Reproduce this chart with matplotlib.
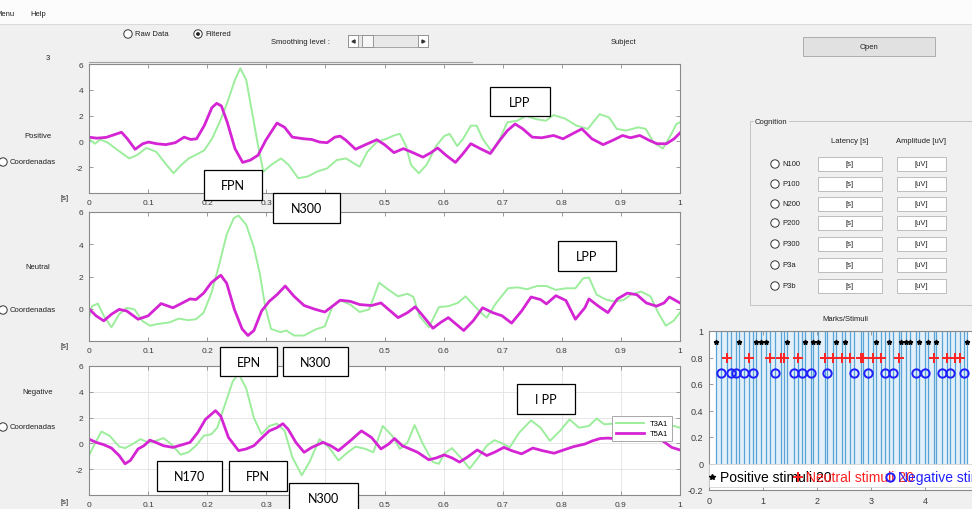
import numpy as np
import matplotlib.pyplot as plt
from matplotlib.patches import Rectangle, Circle

W, H = 972, 510
plt.rcParams['font.family'] = ['Liberation Sans', 'DejaVu Sans']

GREEN = '#9cee9c'
MAGENTA = '#d424d4'
BG = '#f0f0f0'

# ERP averages, (time [s], amplitude [uV]) per channel
pos_t3 = [(0, 0.20), (0.010, -0.18), (0.019, 0.15), (0.032, -0.10), (0.049, -0.69), (0.068, -1.32),
          (0.081, -1.07), (0.097, -0.51), (0.114, -0.81), (0.127, -1.58), (0.143, -2.47), (0.156, -1.83),
          (0.169, -1.32), (0.185, -0.94), (0.195, -0.69), (0.208, 0.20), (0.221, 1.48), (0.234, 3.00),
          (0.247, 4.78), (0.256, 5.67), (0.266, 4.78), (0.276, 2.24), (0.286, -0.31), (0.295, -2.34),
          (0.308, -1.83), (0.325, -1.32), (0.338, -1.83), (0.354, -2.85), (0.370, -2.72), (0.386, -2.34),
          (0.403, -2.09), (0.419, -1.45), (0.435, -1.32), (0.448, -1.70), (0.458, -1.96), (0.471, -0.81),
          (0.487, -0.05), (0.503, 0.20), (0.516, 0.46), (0.526, 0.59), (0.536, -0.31), (0.545, -1.83),
          (0.558, -2.47), (0.571, -1.83), (0.588, -0.31), (0.601, 0.41), (0.610, 0.59), (0.623, -0.36),
          (0.633, 0.20), (0.646, 1.22), (0.656, 1.22), (0.666, 0.20), (0.682, -0.81), (0.695, 0.20),
          (0.708, 1.48), (0.724, 1.60), (0.740, 1.98), (0.756, 1.73), (0.773, 1.60), (0.786, 2.04),
          (0.805, 1.78), (0.825, 1.22), (0.844, 0.97), (0.864, 2.11), (0.880, 1.86), (0.893, 0.97),
          (0.909, 0.84), (0.929, 1.09), (0.942, 0.97), (0.955, -0.05), (0.971, -0.56), (0.984, 0.46),
          (0.994, 1.35), (1.0, 1.48)]
pos_t5 = [(0, 0.33), (0.013, 0.25), (0.029, 0.31), (0.042, 0.51), (0.055, 0.71), (0.065, 0.20),
          (0.078, -0.61), (0.091, -0.18), (0.101, -0.05), (0.114, -0.18), (0.130, -0.25), (0.146, -0.10),
          (0.161, 0.33), (0.172, 0.15), (0.182, 0.20), (0.195, 1.22), (0.208, 2.62), (0.216, 2.95),
          (0.224, 2.75), (0.234, 1.48), (0.247, -0.56), (0.260, -1.63), (0.273, -1.45), (0.286, -1.07),
          (0.299, 0.08), (0.318, 1.42), (0.331, 1.09), (0.344, 0.33), (0.364, 0.20), (0.377, 0.15),
          (0.390, -0.05), (0.403, -0.10), (0.416, 0.33), (0.425, 0.41), (0.435, 0.08), (0.451, -0.61),
          (0.468, -0.25), (0.487, 0.13), (0.500, -0.25), (0.516, -0.87), (0.532, -0.56), (0.549, -0.89),
          (0.565, -1.22), (0.578, -0.89), (0.590, -0.51), (0.604, -1.07), (0.620, -1.63), (0.633, -0.94),
          (0.646, -0.18), (0.662, -0.56), (0.679, -0.94), (0.695, 0.08), (0.708, 0.84), (0.721, 1.35),
          (0.734, 0.97), (0.750, 0.33), (0.766, 0.28), (0.786, 0.46), (0.802, 0.20), (0.818, 0.59),
          (0.834, 0.97), (0.851, 0.20), (0.870, -0.25), (0.886, 0.08), (0.903, 0.46), (0.916, 0.28),
          (0.932, 0.46), (0.948, 0.08), (0.961, -0.18), (0.977, -0.18), (0.990, 0.20), (1.0, 0.66)]
neu_t3 = [(0, -0.55), (0.005, 0.16), (0.015, 0.32), (0.025, -0.44), (0.038, -1.15), (0.051, -0.34),
          (0.064, 0.06), (0.077, -0.04), (0.090, -0.75), (0.103, -1.05), (0.116, -0.95), (0.136, -0.85),
          (0.152, -0.61), (0.168, -0.71), (0.181, -0.65), (0.194, -0.24), (0.207, 0.97), (0.220, 2.69),
          (0.233, 4.61), (0.245, 5.62), (0.253, 5.78), (0.266, 5.21), (0.279, 3.80), (0.289, 2.18),
          (0.298, 0.16), (0.308, -1.25), (0.324, -1.45), (0.334, -1.35), (0.347, -1.66), (0.364, -1.66),
          (0.383, -1.29), (0.399, -1.09), (0.412, 0.16), (0.425, 0.53), (0.442, 0.26), (0.458, -0.20),
          (0.474, -0.04), (0.491, 1.62), (0.507, 1.17), (0.523, 0.77), (0.539, 0.93), (0.549, 0.73),
          (0.559, -0.44), (0.575, -1.15), (0.592, 0.10), (0.608, 0.16), (0.624, 0.36), (0.637, 0.77),
          (0.650, 0.26), (0.663, -0.24), (0.673, -0.55), (0.689, 0.36), (0.709, 1.27), (0.725, 1.33),
          (0.741, 1.21), (0.758, 1.41), (0.774, 1.41), (0.790, 1.17), (0.807, 1.27), (0.823, 1.27),
          (0.836, 1.88), (0.846, 1.94), (0.859, 0.87), (0.875, 0.57), (0.888, 0.46), (0.904, 0.53),
          (0.917, 0.87), (0.934, 1.07), (0.950, 0.77), (0.963, -0.24), (0.976, -1.05), (0.989, -0.75),
          (1.0, -0.24)]
neu_t5 = [(0, 0.0), (0.012, -0.44), (0.025, -0.75), (0.038, -0.34), (0.051, -0.04), (0.064, -0.14),
          (0.083, -0.65), (0.100, -0.44), (0.122, 0.32), (0.142, 0.06), (0.158, 0.36), (0.171, 0.61),
          (0.181, 0.57), (0.194, 0.97), (0.207, 1.62), (0.223, 2.08), (0.233, 1.58), (0.246, -0.04),
          (0.259, -1.25), (0.269, -1.66), (0.279, -1.35), (0.292, -0.14), (0.305, 0.46), (0.318, 0.87),
          (0.332, 1.41), (0.347, 0.77), (0.364, 0.20), (0.383, -0.04), (0.399, -0.20), (0.412, 0.16),
          (0.425, 0.53), (0.442, 0.46), (0.458, 0.26), (0.478, 0.20), (0.494, 0.36), (0.510, -0.14),
          (0.523, -0.55), (0.539, -0.24), (0.552, 0.12), (0.565, -0.44), (0.582, -1.21), (0.595, -0.85),
          (0.608, -0.55), (0.621, -0.95), (0.634, -1.35), (0.650, -0.75), (0.666, 0.06), (0.683, -0.24),
          (0.699, -0.44), (0.715, -0.89), (0.732, -0.14), (0.748, 0.73), (0.764, 0.57), (0.774, 0.30),
          (0.790, 0.81), (0.807, 0.51), (0.823, -0.65), (0.839, 0.06), (0.846, 0.61), (0.862, 0.16),
          (0.878, -0.24), (0.894, 0.61), (0.911, 0.97), (0.927, 0.87), (0.943, 0.36), (0.960, 0.16),
          (0.973, 0.36), (0.982, 0.73), (1.0, 0.36)]
neg_t3 = [(0, -0.94), (0.008, -0.18), (0.021, 0.92), (0.035, 0.59), (0.051, -0.25), (0.061, -0.36),
          (0.074, -0.05), (0.087, 0.33), (0.100, 0.08), (0.113, 0.20), (0.126, 0.41), (0.139, -0.05),
          (0.155, -0.87), (0.168, -0.69), (0.181, -0.18), (0.194, 0.59), (0.207, 0.71), (0.217, 1.22),
          (0.230, 3.00), (0.243, 4.78), (0.253, 5.42), (0.266, 4.27), (0.279, 1.98), (0.292, 0.71),
          (0.305, 1.35), (0.318, 1.53), (0.331, 0.97), (0.344, -1.07), (0.360, -2.47), (0.373, -1.45),
          (0.390, 0.33), (0.406, -0.31), (0.422, -1.32), (0.438, -0.69), (0.451, -0.25), (0.468, -0.43),
          (0.481, -0.69), (0.497, 1.35), (0.513, 0.59), (0.526, -0.43), (0.539, 0.08), (0.551, 1.42),
          (0.565, -0.05), (0.582, -1.45), (0.592, -1.58), (0.601, -0.81), (0.614, -0.36), (0.631, -1.20),
          (0.644, -1.96), (0.657, -1.20), (0.673, -0.18), (0.686, 0.25), (0.699, 0.00), (0.712, -0.31),
          (0.728, 0.84), (0.748, 1.78), (0.764, 1.22), (0.780, 0.20), (0.797, 0.97), (0.813, 1.86),
          (0.829, 1.22), (0.846, 1.35), (0.859, 1.93), (0.872, 1.48), (0.904, 1.60), (0.937, 1.73),
          (0.969, 1.60), (1.0, 1.22)]
neg_t5 = [(0, 0.33), (0.012, 0.08), (0.025, -0.10), (0.038, -0.36), (0.051, -0.94), (0.061, -1.58),
          (0.070, -1.32), (0.083, -0.43), (0.093, -0.18), (0.103, 0.25), (0.113, 0.08), (0.126, -0.18),
          (0.142, -0.31), (0.158, -0.10), (0.171, 0.08), (0.184, 0.84), (0.197, 1.86), (0.214, 2.54),
          (0.223, 2.11), (0.236, 0.46), (0.253, -0.56), (0.266, -0.43), (0.279, -0.18), (0.292, 0.41),
          (0.305, 0.97), (0.318, 1.22), (0.328, 1.53), (0.337, 1.09), (0.350, 0.08), (0.364, -0.69),
          (0.377, -0.31), (0.396, 0.08), (0.409, -0.18), (0.422, -0.56), (0.442, 0.20), (0.461, 0.97),
          (0.478, 0.46), (0.494, -0.43), (0.507, -0.05), (0.517, 0.38), (0.530, -0.18), (0.543, -0.43),
          (0.556, -0.69), (0.575, -1.27), (0.588, -1.12), (0.601, -0.89), (0.614, -1.12), (0.627, -1.45),
          (0.640, -1.07), (0.657, -0.51), (0.673, -0.94), (0.686, -0.69), (0.702, -0.31), (0.715, -0.56),
          (0.732, -0.81), (0.751, -0.36), (0.767, -0.56), (0.787, -0.76), (0.803, -0.51), (0.820, -0.25),
          (0.839, -0.05), (0.852, 0.20), (0.865, 0.38), (0.878, 0.41), (0.904, 0.33), (0.937, 0.41),
          (0.969, 0.25), (0.986, -0.31), (1.0, -0.51)]

# stimulus onsets [s] and marker levels
stim_pos = [0.13, 0.56, 0.87, 0.96, 1.06, 1.44, 1.78, 1.93, 2.01, 2.35, 2.51, 3.09, 3.33, 3.56,
            3.65, 3.73, 3.88, 4.05, 4.21, 4.77]
stim_neu = [0.34, 0.74, 1.13, 1.33, 1.39, 1.65, 2.14, 2.30, 2.46, 2.62, 2.81, 2.86, 3.03, 3.19,
            3.52, 4.16, 4.40, 4.56, 4.64]
stim_neg = [0.23, 0.40, 0.50, 0.65, 0.82, 1.23, 1.57, 1.73, 1.89, 2.19, 2.69, 2.94, 3.26, 3.41,
            3.83, 4.00, 4.31, 4.46, 4.72]
level_pos, level_neu, level_neg = 0.92, 0.80, 0.68

xticks = [0, 0.1, 0.2, 0.3, 0.4, 0.5, 0.6, 0.7, 0.8, 0.9, 1]
xticklabels = ['0', '0.1', '0.2', '0.3', '0.4', '0.5', '0.6', '0.7', '0.8', '0.9', '1']
components = ['N100', 'P100', 'N200', 'P200', 'P300', 'P3a', 'P3b']
comp_rows = [165, 185, 205, 224, 245, 266, 287]


def px_axes(fig, l, t, r, b, **kw):
    return fig.add_axes([l / W, 1 - b / H, (r - l) / W, (b - t) / H], **kw)


def style(ax, ylim, yticks, ylabels):
    ax.set_xlim(0, 1)
    ax.set_ylim(*ylim)
    ax.set_xticks(xticks)
    ax.set_xticklabels(xticklabels)
    ax.set_yticks(yticks)
    ax.set_yticklabels(ylabels)
    ax.tick_params(direction='in', length=3, width=0.6, color='#8a8a8a', labelcolor='#3c3c3c',
                   labelsize=6, top=True, right=True, pad=4)
    for s in ax.spines.values():
        s.set_color('#8a8a8a')
        s.set_linewidth(0.8)


fig = plt.figure(figsize=(9.72, 5.10), dpi=100, facecolor=BG)

ax1 = px_axes(fig, 89, 65, 680, 194)
ax2 = px_axes(fig, 89, 213, 680, 342)
ax3 = px_axes(fig, 89, 367, 680, 496)

style(ax1, (-4, 6), [-4, -2, 0, 2, 4, 6], ['', '-2', '0', '2', '4', '6'])
style(ax2, (-2, 6), [-2, 0, 2, 4, 6], ['', '0', '2', '4', '6'])
style(ax3, (-4, 6), [-4, -2, 0, 2, 4, 6], ['', '-2', '0', '2', '4', '6'])
ax3.grid(True, color='#e2e2e2', lw=0.6)

for ax, t3, t5 in [(ax1, pos_t3, pos_t5), (ax2, neu_t3, neu_t5), (ax3, neg_t3, neg_t5)]:
    a = np.array(t3)
    b = np.array(t5)
    ax.plot(a[:, 0], a[:, 1], color=GREEN, lw=1.4, label='T3A1')
    ax.plot(b[:, 0], b[:, 1], color=MAGENTA, lw=2.0, label='T5A1')

leg = ax3.legend(loc='upper right', bbox_to_anchor=(0.986, 0.61), fontsize=5.5, handlelength=3.6,
                 fancybox=False, edgecolor='#9a9a9a', framealpha=1, borderaxespad=0, borderpad=0.5,
                 labelspacing=0.35, handletextpad=0.8)
leg.get_frame().set_linewidth(0.6)

# Marks/Stimuli panel
mk = px_axes(fig, 709, 332, 979, 491)
mk.set_xlim(0, 5)
mk.set_ylim(-0.2, 1)
mk.set_xticks([0, 1, 2, 3, 4])
mk.set_yticks([-0.2, 0, 0.2, 0.4, 0.6, 0.8, 1])
mk.set_yticklabels(['-0.2', '0', '0.2', '0.4', '0.6', '0.8', '1'])
mk.tick_params(direction='in', length=3, width=0.6, color='#8a8a8a', labelcolor='#3c3c3c',
               labelsize=6.5, top=True, right=True, pad=4)
for s in mk.spines.values():
    s.set_color('#8a8a8a')
    s.set_linewidth(0.8)
onsets = sorted(stim_pos + stim_neu + stim_neg)
mk.fill_between([onsets[0], onsets[-1]], 0, 1, color='#e3f0f9', lw=0)
mk.vlines(onsets, 0, 1, color='#5aa3d6', lw=0.9)
mk.plot(stim_pos, [level_pos] * len(stim_pos), '*', color='black', ms=3.5, ls='none')
mk.plot(stim_neu, [level_neu] * len(stim_neu), '+', color='#ff2222', ms=7, mew=1.4, ls='none')
mk.plot(stim_neg, [level_neg] * len(stim_neg), 'o', mfc='none', mec='#1f1fff', ms=6, mew=1.4, ls='none')
mk.add_patch(Rectangle((0, -0.175), 5, 0.172, fc='white', ec='#cccccc', lw=0.5, zorder=4))
mk.plot([0.05], [-0.1], '*', color='black', ms=4, zorder=5, clip_on=False)
mk.text(0.2, -0.1, 'Positive stimuli 20', color='black', fontsize=10, va='center', zorder=5)
mk.plot([1.65], [-0.1], '+', color='#ff2222', ms=7, mew=1.4, zorder=6)
mk.text(1.8, -0.1, 'Neutral stimuli 20', color='#ff2222', fontsize=10, va='center', zorder=6)
mk.plot([3.35], [-0.1], 'o', mfc='none', mec='#1f1fff', ms=6, mew=1.4, zorder=7)
mk.text(3.5, -0.1, 'Negative stimuli 20', color='#1f1fff', fontsize=10, va='center', zorder=7)

# window widgets drawn in pixel coordinates
ov = fig.add_axes([0, 0, 1, 1], zorder=10)
ov.set_xlim(0, W)
ov.set_ylim(H, 0)
ov.axis('off')
ov.patch.set_alpha(0)

GUI = dict(fontsize=5.5, color='#202020', va='center')


def radio(x, y, selected=False):
    ov.add_patch(Circle((x, y), 4.2, fc='white', ec='#333333', lw=0.7))
    if selected:
        ov.add_patch(Circle((x, y), 1.9, fc='#222222', ec='none'))


def note(l, t, r, b, s):
    ov.add_patch(Rectangle((l, t), r - l, b - t, fc='white', ec='black', lw=0.9))
    ov.text((l + r) / 2, (t + b) / 2 + 0.5, s, ha='center', va='center', fontsize=9,
            family=['Lato', 'DejaVu Sans'], color='black')


ov.add_patch(Rectangle((0, 0), W, 25, fc='#fcfcfc', ec='none'))
ov.plot([0, W], [25, 25], color='#dadada', lw=0.8)
ov.text(-5, 15, 'Menu', **GUI)
ov.text(30, 15, 'Help', **GUI)

radio(128, 35)
ov.text(135, 35, 'Raw Data', **GUI)
radio(198, 35, selected=True)
ov.text(205, 35, 'Filtered', **GUI)
ov.text(271, 42, 'Smoothing level :', **GUI)
ov.add_patch(Rectangle((348, 36), 80, 12, fc='#e8e8e8', ec='#9a9a9a', lw=0.6))
ov.add_patch(Rectangle((348, 36), 10, 12, fc='white', ec='#8a8a8a', lw=0.6))
ov.add_patch(Rectangle((418, 36), 10, 12, fc='white', ec='#8a8a8a', lw=0.6))
ov.add_patch(Rectangle((362, 36), 11, 12, fc='#f7f7f7', ec='#8a8a8a', lw=0.6))
ov.plot([353], [42], marker='<', ms=2.2, color='#333333')
ov.plot([423], [42], marker='>', ms=2.2, color='#333333')
ov.text(611, 42, 'Subject', **GUI)
ov.plot([89, 472], [63, 63], color='#a0a0a0', lw=0.8)

ov.text(48, 58, '3', ha='center', **GUI)
for y_lab, y_rad, y_s, name in [(137, 163, 199, 'Positive'), (268, 311, 347, 'Neutral'),
                               (393, 428, 503, 'Negative')]:
    ov.text(38, y_lab, name, ha='center', **GUI)
    radio(3, y_rad)
    ov.text(10, y_rad, 'Coordenadas', **GUI)
    ov.text(65, y_s, '[s]', ha='center', **GUI)

# component labels on the traces
note(490, 88, 550, 117, 'LPP')
note(204, 171, 262, 201, 'FPN')
note(273, 194, 340, 224, 'N300')
note(558, 242, 616, 272, 'LPP')
note(220, 348, 277, 377, 'EPN')
note(283, 348, 348, 377, 'N300')
note(517, 385, 575, 415, 'I PP')
note(157, 462, 222, 492, 'N170')
note(229, 462, 287, 492, 'FPN')
note(289, 484, 358, 514, 'N300')

# Open button and Cognition panel
ov.add_patch(Rectangle((803, 38), 132, 19, fc='#e1e1e1', ec='#adadad', lw=0.7))
ov.text(869, 47.5, 'Open', ha='center', **GUI)
ov.add_patch(Rectangle((750, 122), 240, 184, fc='none', ec='#c4c4c4', lw=0.7))
ov.text(755, 122, 'Cognition', bbox=dict(fc=BG, ec='none', pad=1), **GUI)
ov.text(850, 142, 'Latency [s]', ha='center', **GUI)
ov.text(921, 142, 'Amplitude [uV]', ha='center', **GUI)
for name, y in zip(components, comp_rows):
    radio(775, y)
    ov.text(782, y, name, **GUI)
    ov.add_patch(Rectangle((818, y - 7), 64, 14, fc='white', ec='#b4b4b4', lw=0.6))
    ov.text(850, y, '[s]', ha='center', **GUI)
    ov.add_patch(Rectangle((897, y - 7), 49, 14, fc='white', ec='#b4b4b4', lw=0.6))
    ov.text(921.5, y, '[uV]', ha='center', **GUI)
ov.text(845, 320, 'Marks/Stimuli', ha='center', **GUI)

fig.savefig('out.png', dpi=100, facecolor=BG)
